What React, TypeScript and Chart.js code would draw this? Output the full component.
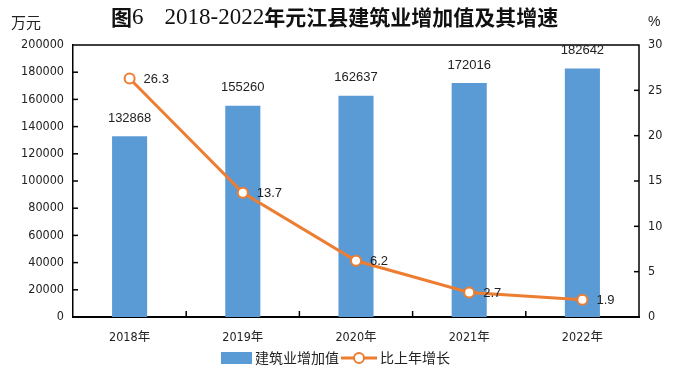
import React, { useEffect, useRef } from "react";
import { Chart, registerables } from "chart.js";

Chart.register(...registerables);

const categories = ["2018年", "2019年", "2020年", "2021年", "2022年"];
const valueAdded = [132868, 155260, 162637, 172016, 182642];
const growth = [26.3, 13.7, 6.2, 2.7, 1.9];
const barName = "建筑业增加值";
const lineName = "比上年增长";
const titleText = "图6　2018-2022年元江县建筑业增加值及其增速";
const leftUnit = "万元";
const rightUnit = "%";

const BLUE = "#5B9BD5";
const ORANGE = "#ED7D31";
const NARROW = "'DejaVu Sans Condensed', 'Liberation Sans Narrow', 'Noto Sans CJK SC', sans-serif";
const CJK = "'Noto Sans CJK SC', sans-serif";
const LABEL = "'Liberation Sans', 'Noto Sans CJK SC', sans-serif";

function drawTitle(ctx: CanvasRenderingContext2D, text: string, x: number, y: number) {
  const runs: { s: string; ascii: boolean }[] = [];
  for (const ch of text) {
    const ascii = ch.charCodeAt(0) < 128;
    if (runs.length && runs[runs.length - 1].ascii === ascii) runs[runs.length - 1].s += ch;
    else runs.push({ s: ch, ascii });
  }
  let cx = x;
  ctx.textAlign = "left";
  ctx.textBaseline = "middle";
  for (const r of runs) {
    ctx.font = r.ascii ? "23px 'Liberation Serif', serif" : "bold 21px 'Noto Sans CJK SC', sans-serif";
    ctx.fillText(r.s, cx, r.ascii ? y + 1 : y);
    cx += ctx.measureText(r.s).width;
  }
}

const decorPlugin = {
  id: "decor",
  afterDraw(chart: any) {
    const ctx = chart.ctx;
    const area = chart.chartArea;
    const y = chart.scales.y;
    const y1 = chart.scales.y1;
    ctx.save();
    ctx.strokeStyle = "#000";
    ctx.lineWidth = 1.5;
    ctx.beginPath();
    ctx.moveTo(area.left, area.top);
    ctx.lineTo(area.right, area.top);
    ctx.lineTo(area.right, area.bottom);
    ctx.stroke();
    y.ticks.forEach((t: any) => {
      const py = y.getPixelForValue(t.value);
      if (t.value === 0 || t.value === 200000) return;
      ctx.beginPath();
      ctx.moveTo(area.left, py);
      ctx.lineTo(area.left + 5, py);
      ctx.stroke();
    });
    y1.ticks.forEach((t: any) => {
      const py = y1.getPixelForValue(t.value);
      if (t.value === 0 || t.value === 30) return;
      ctx.beginPath();
      ctx.moveTo(area.right, py);
      ctx.lineTo(area.right - 5, py);
      ctx.stroke();
    });
    const n = categories.length;
    const step = (area.right - area.left) / n;
    for (let i = 1; i < n; i++) {
      const px = area.left + step * i;
      ctx.beginPath();
      ctx.moveTo(px, area.bottom);
      ctx.lineTo(px, area.bottom - 6);
      ctx.stroke();
    }
    const barMeta = chart.getDatasetMeta(0);
    ctx.fillStyle = "#222";
    ctx.font = "13px " + LABEL;
    ctx.textAlign = "center";
    ctx.textBaseline = "middle";
    barMeta.data.forEach((el: any, i: number) => {
      ctx.fillText(String(valueAdded[i]), el.x, el.y - 18);
    });
    const lineMeta = chart.getDatasetMeta(1);
    ctx.textAlign = "left";
    lineMeta.data.forEach((el: any, i: number) => {
      ctx.fillText(growth[i].toFixed(1), el.x + 14, el.y + 1);
    });
    ctx.fillStyle = "#111";
    drawTitle(ctx, titleText, 111, 17);
    ctx.font = "15px " + CJK;
    ctx.textAlign = "left";
    ctx.fillStyle = "#222";
    ctx.fillText(leftUnit, 11, 22);
    ctx.font = "14px " + LABEL;
    ctx.fillText(rightUnit, 648, 22);
    const ly = 358;
    ctx.fillStyle = BLUE;
    ctx.fillRect(221, ly - 6, 31, 12);
    ctx.fillStyle = "#222";
    ctx.font = "14px " + CJK;
    ctx.fillText(barName, 255, ly);
    ctx.strokeStyle = ORANGE;
    ctx.lineWidth = 3;
    ctx.beginPath();
    ctx.moveTo(341, ly);
    ctx.lineTo(377, ly);
    ctx.stroke();
    ctx.fillStyle = "#fff";
    ctx.lineWidth = 2;
    ctx.beginPath();
    ctx.arc(359, ly, 5, 0, Math.PI * 2);
    ctx.fill();
    ctx.stroke();
    ctx.fillStyle = "#222";
    ctx.fillText(lineName, 380, ly);
    ctx.restore();
  },
};

export default function App() {
  const ref = useRef<HTMLCanvasElement | null>(null);
  useEffect(() => {
    if (!ref.current) return;
    const chart = new Chart(ref.current, {
      type: "bar",
      data: {
        labels: categories,
        datasets: [
          {
            type: "bar",
            label: barName,
            data: valueAdded,
            backgroundColor: BLUE,
            yAxisID: "y",
            categoryPercentage: 1,
            barPercentage: 0.31,
            order: 2,
          },
          {
            type: "line",
            label: lineName,
            data: growth,
            borderColor: ORANGE,
            borderWidth: 3,
            pointRadius: 5,
            pointBorderWidth: 2,
            pointBackgroundColor: "#fff",
            pointBorderColor: ORANGE,
            yAxisID: "y1",
            order: 1,
          } as any,
        ],
      },
      options: {
        responsive: false,
        animation: false,
        layout: { padding: { top: 45, left: 0, right: 0, bottom: 0 } },
        plugins: { legend: { display: false }, tooltip: { enabled: false }, title: { display: false } },
        scales: {
          x: {
            grid: { display: false, drawTicks: false },
            border: { display: true, color: "#000", width: 2 },
            ticks: { color: "#222", font: { family: NARROW, size: 12.5 }, padding: 13 },
            afterFit: (s: any) => { s.height = 58; },
          },
          y: {
            position: "left",
            min: 0,
            max: 200000,
            grid: { display: false, drawTicks: false },
            border: { display: true, color: "#000", width: 1.5 },
            ticks: {
              stepSize: 20000,
              color: "#222",
              font: { family: NARROW, size: 12.5 },
              padding: 9,
              callback: (v: any) => String(v),
            },
            afterFit: (s: any) => { s.width = 73; },
          },
          y1: {
            position: "right",
            min: 0,
            max: 30,
            grid: { display: false, drawTicks: false },
            border: { display: false },
            ticks: { stepSize: 5, color: "#222", font: { family: NARROW, size: 12.5 }, padding: 9 },
            afterFit: (s: any) => { s.width = 37; },
          },
        },
      } as any,
      plugins: [decorPlugin],
    });
    return () => chart.destroy();
  }, []);
  return (
    <div style={{ position: "fixed", left: 0, top: 0, width: 676, height: 375, background: "#fff" }}>
      <canvas ref={ref} width={676} height={375} style={{ width: 676, height: 375, display: "block" }} />
    </div>
  );
}
